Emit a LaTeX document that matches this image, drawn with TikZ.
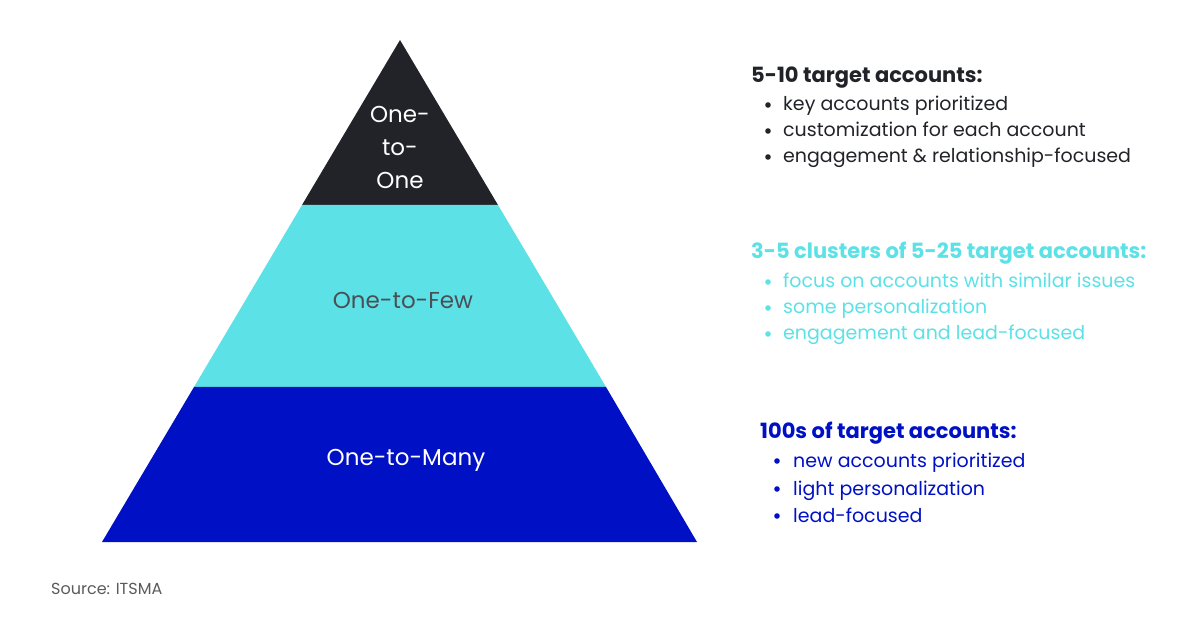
\documentclass[tikz,border=0pt]{standalone}
\usepackage{fontspec}
\setmainfont{Poppins}
\definecolor{topcol}{HTML}{212329}
\definecolor{midcol}{HTML}{5CE1E6}
\definecolor{basecol}{HTML}{0010C4}
\definecolor{fewtext}{HTML}{4A4F55}
\definecolor{srctext}{HTML}{5A5A5A}
\tikzset{
  tierlabel/.style={font=\fontsize{23}{33}\selectfont, align=center},
  heading/.style={anchor=base west, inner sep=0pt, font=\fontsize{21}{24}\bfseries\selectfont},
  item/.style={anchor=base west, inner sep=0pt, font=\fontsize{19}{22}\selectfont}
}
\begin{document}
\begin{tikzpicture}[x=1pt,y=-1pt]
\useasboundingbox (0,0) rectangle (1200,628);
% pyramid
\fill[topcol] (400,40)--(498,205)--(302,205)--cycle;
\fill[midcol] (302,205)--(498,205)--(606,387)--(194,387)--cycle;
\fill[basecol] (194,387)--(606,387)--(697,542)--(102,542)--cycle;
\node[tierlabel, text=white] (one) at (400,147) {One-\\to-\\One};
\node[tierlabel, text=fewtext] (few) at (403,300) {One-to-Few};
\node[tierlabel, text=white] (many) at (406,460) {One-to-Many};
% one-to-one
\node[heading, text=topcol] (headone) at (751,83) {5-10 target accounts:};
\foreach \y/\t [count=\i] in {111/key accounts prioritized,
    137/customization for each account,
    163/engagement \& relationship-focused}{
  \fill[topcol] (768,\y-6) circle (2.8);
  \node[item, text=topcol] (one\i) at (783,\y) {\t};
}
% one-to-few
\node[heading, text=midcol] (headfew) at (751,259) {3-5 clusters of 5-25 target accounts:};
\foreach \y/\t [count=\i] in {288/focus on accounts with similar issues,
    314/some personalization,
    340/engagement and lead-focused}{
  \fill[midcol] (768,\y-6) circle (2.8);
  \node[item, text=midcol] (few\i) at (783,\y) {\t};
}
% one-to-many
\node[heading, text=basecol] (headmany) at (760,438) {100s of target accounts:};
\foreach \y/\t [count=\i] in {467/new accounts prioritized,
    495/light personalization,
    522/lead-focused}{
  \fill[basecol] (777,\y-6) circle (2.8);
  \node[item, text=basecol] (many\i) at (793,\y) {\t};
}
\node[anchor=base west, inner sep=0pt, text=srctext, font=\fontsize{16}{18}\selectfont] (source) at (51,594) {Source: ITSMA};
\end{tikzpicture}
\end{document}
